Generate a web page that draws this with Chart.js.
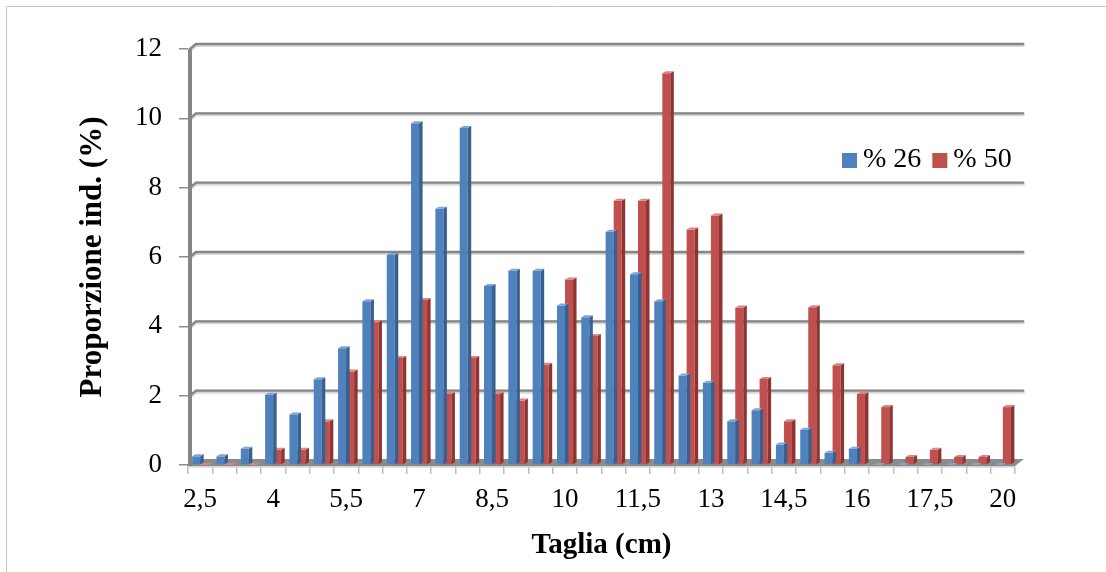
<!DOCTYPE html>
<html>
<head>
<meta charset="utf-8">
<script src="https://cdn.jsdelivr.net/npm/chart.js@4/dist/chart.umd.min.js"></script>
<style>
  html, body { margin: 0; padding: 0; background: #fff; }
  canvas { display: block; }
</style>
</head>
<body>
<canvas id="c" width="1106" height="572"></canvas>
<script>
// Size classes (cm)
const categories = ['2,5','3','3,5','4','4,5','5','5,5','6','6,5','7','7,5','8','8,5','9','9,5','10','10,5','11','11,5','12','12,5','13','13,5','14','14,5','15','15,5','16','16,5','17','17,5','18','19','20'];

// Share of individuals per size class (%)
const pct26 = [0.25,0.25,0.47,2.03,1.46,2.47,3.37,4.72,6.06,9.86,7.39,9.72,5.16,5.6,5.6,4.6,4.26,6.73,5.5,4.72,2.58,2.37,1.26,1.58,0.59,1.02,0.35,0.47,0,0,0,0,0,0];
const pct50 = [0,0,0,0.44,0.44,1.26,2.7,4.12,3.09,4.76,2.05,3.09,2.05,1.86,2.89,5.35,3.72,7.62,7.62,11.3,6.79,7.2,4.54,2.48,1.26,4.55,2.88,2.05,1.67,0.23,0.44,0.23,0.23,1.67];

const seriesLabels = ['% 26', '% 50'];
const yTicks = [0, 2, 4, 6, 8, 10, 12];

const SERIF = '"Liberation Serif", "Times New Roman", serif';
const faces = [
  { front: '#4F81BD', side: '#36608F', top: '#7FA3D3' },
  { front: '#C0504D', side: '#8E3533', top: '#D98583' }
];
const DEPTH_X = 3.5, DEPTH_Y = 2;

// Page frame and the 3D walls (left wall, floor, back-wall gridlines)
const wallsPlugin = {
  id: 'walls',
  beforeDraw(chart) {
    const { ctx, width, height } = chart;
    ctx.save();
    ctx.fillStyle = '#fff';
    ctx.fillRect(0, 0, width, height);
    ctx.strokeStyle = '#c4c4c4';
    ctx.lineWidth = 1;
    ctx.beginPath();
    ctx.moveTo(6.5, height);
    ctx.lineTo(6.5, 6.5);
    ctx.lineTo(width, 6.5);
    ctx.stroke();
    ctx.restore();
  },
  beforeDatasetsDraw(chart) {
    const { ctx, chartArea } = chart;
    const y = chart.scales.y;
    const L = chartArea.left + 2, R = chartArea.right + 8;
    ctx.save();
    // back-wall gridlines
    ctx.lineCap = 'round';
    yTicks.forEach(v => {
      if (v === 0) return;
      const py = y.getPixelForValue(v);
      ctx.strokeStyle = '#d8d8d8';
      ctx.lineWidth = 4;
      ctx.beginPath();
      ctx.moveTo(L, py + 1);
      ctx.lineTo(L + 6, py - 4);
      ctx.lineTo(R, py - 4);
      ctx.stroke();
      ctx.strokeStyle = '#868686';
      ctx.lineWidth = 2.4;
      ctx.beginPath();
      ctx.moveTo(L, py);
      ctx.lineTo(L + 6, py - 5);
      ctx.lineTo(R, py - 5);
      ctx.stroke();
    });
    // floor
    const fy = y.getPixelForValue(0);
    ctx.fillStyle = '#8c8c8c';
    ctx.beginPath();
    ctx.moveTo(chartArea.left, fy + 1);
    ctx.lineTo(chartArea.right, fy + 1);
    ctx.lineTo(R + 1, fy - 6);
    ctx.lineTo(L + 6, fy - 6);
    ctx.closePath();
    ctx.fill();
    ctx.fillStyle = '#d0d0d0';
    ctx.fillRect(chartArea.left, fy + 1, chartArea.right - chartArea.left, 1.5);
    // left wall
    ctx.strokeStyle = '#868686';
    ctx.lineWidth = 4;
    ctx.lineCap = 'butt';
    ctx.beginPath();
    ctx.moveTo(L, fy + 1);
    ctx.lineTo(L, y.getPixelForValue(12));
    ctx.stroke();
    ctx.restore();
  }
};

// Side and top faces for each bar, drawn right after its dataset
const barFacesPlugin = {
  id: 'barFaces',
  afterDatasetDraw(chart, args) {
    const { ctx } = chart;
    const f = faces[args.index];
    ctx.save();
    args.meta.data.forEach(el => {
      const { x, y, base, width } = el.getProps(['x', 'y', 'base', 'width'], true);
      const l = x - width / 2, r = x + width / 2;
      ctx.fillStyle = f.side;
      ctx.beginPath();
      ctx.moveTo(r, y);
      ctx.lineTo(r + DEPTH_X, y - DEPTH_Y);
      ctx.lineTo(r + DEPTH_X, base - DEPTH_Y);
      ctx.lineTo(r, base);
      ctx.closePath();
      ctx.fill();
      ctx.fillStyle = f.top;
      ctx.beginPath();
      ctx.moveTo(l, y);
      ctx.lineTo(l + DEPTH_X, y - DEPTH_Y);
      ctx.lineTo(r + DEPTH_X, y - DEPTH_Y);
      ctx.lineTo(r, y);
      ctx.closePath();
      ctx.fill();
    });
    ctx.restore();
  }
};

// Legend placed inside the plot, upper right
const legendPlugin = {
  id: 'innerLegend',
  afterDraw(chart) {
    const { ctx } = chart;
    ctx.save();
    ctx.font = '28px ' + SERIF;
    ctx.textBaseline = 'middle';
    ctx.textAlign = 'left';
    let x = 842;
    const cy = 160;
    chart.data.datasets.forEach(ds => {
      ctx.fillStyle = ds.backgroundColor;
      ctx.fillRect(x, cy - 7, 15, 15);
      x += 21;
      ctx.fillStyle = '#000';
      ctx.fillText(ds.label, x, cy);
      x += ctx.measureText(ds.label).width + 11;
    });
    ctx.restore();
  }
};

new Chart(document.getElementById('c'), {
  type: 'bar',
  data: {
    labels: categories,
    datasets: [
      { label: seriesLabels[0], data: pct26, backgroundColor: faces[0].front },
      { label: seriesLabels[1], data: pct50, backgroundColor: faces[1].front }
    ]
  },
  options: {
    responsive: false,
    animation: false,
    devicePixelRatio: 1,
    layout: { padding: { left: 8, right: 91, top: 49, bottom: 0 } },
    datasets: { bar: { categoryPercentage: 0.66, barPercentage: 1, borderWidth: 0 } },
    plugins: { legend: { display: false }, tooltip: { enabled: false } },
    scales: {
      x: {
        grid: { display: true, drawOnChartArea: false, drawTicks: true, tickLength: 9, color: '#bdbdbd', lineWidth: 1.5, offset: true },
        border: { display: false },
        ticks: {
          autoSkip: false, maxRotation: 0, padding: 10,
          color: '#000',
          font: { family: SERIF, size: 27, lineHeight: 1.2 },
          callback: function (v, i) { return i % 3 === 0 ? this.getLabelForValue(v) : ''; }
        },
        title: {
          display: true, text: 'Taglia (cm)', color: '#000',
          font: { family: SERIF, size: 29, weight: 'bold', lineHeight: 1.2 },
          padding: { top: 0, bottom: 9 }
        },
        afterFit: s => { s.height = 107; }
      },
      y: {
        min: 0, max: 12,
        afterBuildTicks: s => { s.ticks = yTicks.map(v => ({ value: v })); },
        grid: { display: true, drawOnChartArea: false, drawTicks: true, tickLength: 9, color: '#8c8c8c', lineWidth: 1.5 },
        border: { display: false },
        ticks: {
          padding: 17, color: '#000',
          font: { family: SERIF, size: 27, lineHeight: 1.2 }
        },
        title: {
          display: true, text: 'Proporzione ind. (%)', color: '#000',
          font: { family: SERIF, size: 31, weight: 'bold', lineHeight: 1.2 },
          padding: { top: 66, bottom: 0 }
        },
        afterFit: s => { s.width = 180; }
      }
    }
  },
  plugins: [wallsPlugin, barFacesPlugin, legendPlugin]
});
</script>
</body>
</html>
